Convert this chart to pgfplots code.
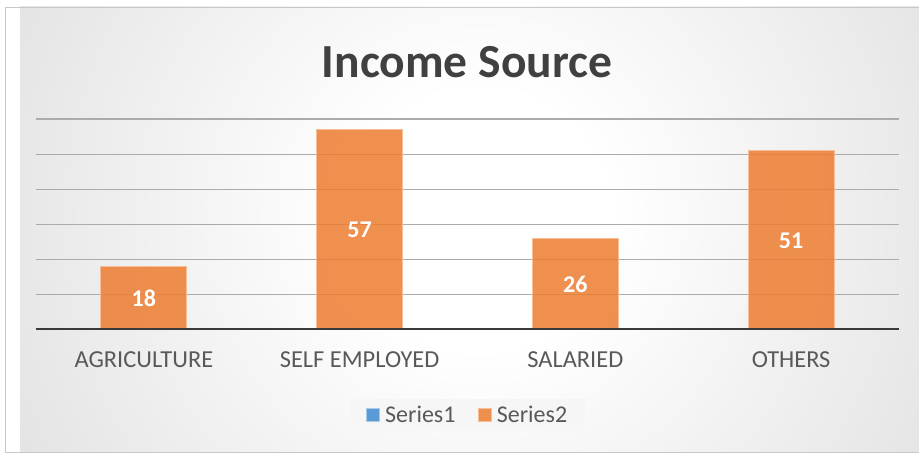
\documentclass[border=0pt]{standalone}
\usepackage{pgfplots}
\pgfplotsset{compat=1.18}
\usepackage{fontspec}
\setmainfont{Carlito}
\definecolor{barc}{HTML}{ED7D31}
\definecolor{barborder}{HTML}{F6BE96}
\definecolor{sonec}{HTML}{5B9BD5}
\definecolor{soneborder}{HTML}{A9CBEA}
\definecolor{titc}{HTML}{404040}
\definecolor{labc}{HTML}{595959}
\definecolor{gridc}{HTML}{ABABAB}
\definecolor{axisc}{HTML}{3A3A3A}
\definecolor{bgedge}{HTML}{C7C7C7}
\definecolor{bgcorner}{HTML}{C0C0C0}
\definecolor{legfill}{HTML}{F6F6F6}
\definecolor{framec}{HTML}{C8C8C8}
\pgfdeclareradialshading{bgshade}{\pgfpoint{0bp}{0bp}}{color(0bp)=(white); color(7bp)=(white); color(50bp)=(bgedge); color(100bp)=(bgcorner)}
\begin{document}
\begin{tikzpicture}[x=1bp,y=1bp]
\useasboundingbox (0,0) rectangle (919,454);
\begin{scope}
\clip (5,2) rectangle (919,447);
\shade[shading=bgshade] (480-460,234-460) rectangle (480+460,234+460);
\end{scope}
\draw[framec, line width=0.8bp] (5,2) rectangle (919,447);
\node[font=\fontsize{47.5bp}{56bp}\selectfont\bfseries, text=titc, anchor=base] at (467,376) {Income Source};
\begin{axis}[
  at={(36bp,124bp)}, anchor=south west,
  scale only axis, width=863bp, height=211bp,
  xmin=-0.5, xmax=3.5, ymin=0, ymax=60,
  axis line style={draw=none},
  major tick length=0pt,
  ytick={10,20,30,40,50,60}, yticklabels={},
  ymajorgrids, grid style={draw=gridc, line width=1.2bp},
  xtick={0,1,2,3},
  xticklabels={AGRICULTURE,SELF EMPLOYED,SALARIED,OTHERS},
  xticklabel style={font=\fontsize{24.4bp}{28bp}\selectfont, text=labc, anchor=base, yshift=-38bp},
  legend style={at={(0.5,-0.403)}, anchor=center, draw=none, fill=legfill,
    font=\fontsize{24bp}{28bp}\selectfont, text=labc, inner xsep=16bp, inner ysep=5bp,
    /tikz/every even column/.append style={column sep=20bp}},
  legend columns=2,
  legend image code/.code={\fill[#1] (0bp,-6.5bp) rectangle (13bp,6.5bp); \path[draw=none,fill=none] (0bp,0bp) -- (17bp,0bp);},
]
\addlegendimage{fill=sonec, draw=soneborder, line width=0.8bp}
\addlegendentry{Series1}
\addplot[ybar, bar width=86bp, bar shift=0pt, fill=barc, fill opacity=0.85, draw=barborder, line width=0.8bp,
  visualization depends on=rawy \as \rawy,
  nodes near coords={\pgfmathprintnumber[assume math mode=true]{\pgfplotspointmeta}},
  every node near coord/.append style={anchor=center, text=white, text opacity=1, draw=none, fill=none,
    font=\fontsize{24bp}{28bp}\selectfont\bfseries, shift={(axis direction cs:0,-\rawy/2)}},
  ] coordinates {(0,18) (1,57) (2,26) (3,51)};
\addlegendentry{Series2}
\draw[axisc, line width=3.2bp] (axis cs:-0.5,0) -- (axis cs:3.5,0);
\end{axis}
\end{tikzpicture}
\end{document}
